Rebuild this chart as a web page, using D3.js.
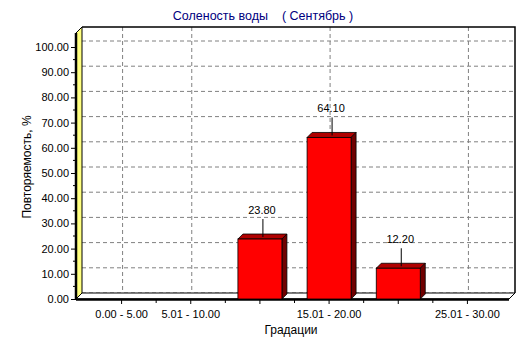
<!DOCTYPE html>
<html>
<head>
<meta charset="utf-8">
<script src="https://cdn.jsdelivr.net/npm/d3@7"></script>
<style>
  body { margin: 0; background: #fff; }
  text { font-family: Arial, "Liberation Sans", sans-serif; }
</style>
</head>
<body>
<div id="wrapper"></div>
<script>
// data
const categories = ["0.00 - 5.00", "5.01 - 10.00", "10.01 - 15.00", "15.01 - 20.00", "20.01 - 25.00", "25.01 - 30.00"]
const values = [0, 0, 23.8, 64.1, 12.2, 0]
const tickLabels = ["0.00 - 5.00", "5.01 - 10.00", "", "15.01 - 20.00", "", "25.01 - 30.00"]
const yTicks = [0, 10, 20, 30, 40, 50, 60, 70, 80, 90, 100]

const dims = { width: 532, height: 343 }
const front = { left: 76, right: 509, bottom: 299, top: 33 }
const depth = 6
const barDepth = 5
const barWidth = 44

const svg = d3.select("#wrapper").append("svg")
    .attr("width", dims.width)
    .attr("height", dims.height)

const xScale = d3.scaleBand()
    .domain(categories)
    .range([87, 502])
    .padding(0)
const xCenter = c => xScale(c) + xScale.bandwidth() / 2

const yScale = d3.scaleLinear()
    .domain([0, 100])
    .range([front.bottom, 47])

// back wall
svg.append("rect")
    .attr("x", front.left + depth).attr("y", 27)
    .attr("width", 515 - front.left - depth)
    .attr("height", front.bottom - depth - 27)
    .attr("fill", "#fff")

// grid on back wall
svg.append("g").selectAll("line")
    .data(yTicks)
    .join("line")
    .attr("x1", front.left + depth).attr("x2", 515)
    .attr("y1", d => yScale(d) - depth).attr("y2", d => yScale(d) - depth)
    .attr("stroke", "#808080")
    .attr("stroke-dasharray", "4,3")

svg.append("g").selectAll("line")
    .data(categories.filter((c, i) => tickLabels[i] !== ""))
    .join("line")
    .attr("x1", d => xCenter(d) + 1).attr("x2", d => xCenter(d) + 1)
    .attr("y1", 27).attr("y2", front.bottom - depth)
    .attr("stroke", "#808080")
    .attr("stroke-dasharray", "4,3")

// back wall border (top + right)
svg.append("path")
    .attr("d", `M${front.left + depth},27 H515 V${front.bottom - depth}`)
    .attr("fill", "none")
    .attr("stroke", "#000")
    .attr("stroke-width", 1.5)

// left wall
svg.append("path")
    .attr("d", `M${front.left},${front.top} L${front.left + depth},27 V${front.bottom - depth} L${front.left},${front.bottom} Z`)
    .attr("fill", "#ffff80")
    .attr("stroke", "#000")
    .attr("stroke-width", 1)
svg.append("line")
    .attr("x1", front.left).attr("x2", front.left)
    .attr("y1", front.top).attr("y2", front.bottom + 1)
    .attr("stroke", "#000").attr("stroke-width", 2.5)

// floor
svg.append("path")
    .attr("d", `M${front.left},${front.bottom} L${front.left + depth},${front.bottom - depth} H515 L${front.right},${front.bottom} Z`)
    .attr("fill", "#fff")
    .attr("stroke", "#000")
    .attr("stroke-width", 1)
svg.append("line")
    .attr("x1", front.left).attr("x2", front.right)
    .attr("y1", front.bottom + 0.5).attr("y2", front.bottom + 0.5)
    .attr("stroke", "#000").attr("stroke-width", 2.5)

// y axis ticks
const yAxis = d3.axisLeft(yScale)
    .tickValues(yTicks)
    .tickFormat(d3.format(".2f"))
    .tickSize(5)
    .tickPadding(2)
const yAxisG = svg.append("g")
    .attr("transform", `translate(${front.left},0)`)
    .call(yAxis)
yAxisG.select(".domain").remove()
yAxisG.selectAll("text").style("font-size", "11px").attr("fill", "#000")

svg.append("g").selectAll("line")
    .data(d3.range(5, 100, 10))
    .join("line")
    .attr("x1", front.left - 3).attr("x2", front.left)
    .attr("y1", d => yScale(d)).attr("y2", d => yScale(d))
    .attr("stroke", "#000")

// x axis ticks
const xAxis = d3.axisBottom(xScale)
    .tickFormat((d, i) => tickLabels[i])
    .tickSize(5)
    .tickPadding(6)
const xAxisG = svg.append("g")
    .attr("transform", `translate(0,${front.bottom})`)
    .call(xAxis)
xAxisG.select(".domain").remove()
xAxisG.selectAll("text").style("font-size", "11px").attr("fill", "#000")

svg.append("g").selectAll("line")
    .data(categories.slice(1))
    .join("line")
    .attr("x1", d => xScale(d)).attr("x2", d => xScale(d))
    .attr("y1", front.bottom).attr("y2", front.bottom + 4)
    .attr("stroke", "#000")

// bars
const barData = categories.map((c, i) => ({ c, v: values[i] })).filter(d => d.v > 0)

const bars = svg.append("g").selectAll("g")
    .data(barData)
    .join("g")

bars.append("path") // top
    .attr("d", d => {
        const x0 = xCenter(d.c) - barWidth / 2, y0 = yScale(d.v)
        return `M${x0},${y0} L${x0 + barDepth},${y0 - barDepth} H${x0 + barWidth + barDepth} L${x0 + barWidth},${y0} Z`
    })
    .attr("fill", "#b00000")
    .attr("stroke", "#000")
    .attr("stroke-width", 0.8)

bars.append("path") // side
    .attr("d", d => {
        const x1 = xCenter(d.c) + barWidth / 2, y0 = yScale(d.v)
        return `M${x1},${y0} L${x1 + barDepth},${y0 - barDepth} V${front.bottom - barDepth} L${x1},${front.bottom} Z`
    })
    .attr("fill", "#700000")
    .attr("stroke", "#000")
    .attr("stroke-width", 0.8)

bars.append("rect") // front
    .attr("x", d => xCenter(d.c) - barWidth / 2)
    .attr("y", d => yScale(d.v))
    .attr("width", barWidth)
    .attr("height", d => front.bottom - yScale(d.v))
    .attr("fill", "#ff0000")
    .attr("stroke", "#000")
    .attr("stroke-width", 0.8)

// value labels
bars.append("line")
    .attr("x1", d => xCenter(d.c) + 3).attr("x2", d => xCenter(d.c) + 3)
    .attr("y1", d => yScale(d.v) - 2).attr("y2", d => yScale(d.v) - 20)
    .attr("stroke", "#000")

bars.append("text")
    .attr("x", d => xCenter(d.c) + 2)
    .attr("y", d => yScale(d.v) - 25)
    .attr("text-anchor", "middle")
    .style("font-size", "11px")
    .text(d => d.v.toFixed(2))

// titles
svg.append("text")
    .attr("x", 263).attr("y", 20)
    .attr("text-anchor", "middle")
    .attr("fill", "#000080")
    .style("font-size", "12.5px")
    .style("white-space", "pre")
    .text("Соленость воды    ( Сентябрь )")

svg.append("text")
    .attr("x", 291).attr("y", 334)
    .attr("text-anchor", "middle")
    .style("font-size", "12px")
    .text("Градации")

svg.append("text")
    .attr("transform", "translate(31,167) rotate(-90)")
    .attr("text-anchor", "middle")
    .style("font-size", "12px")
    .text("Повторяемость, %")
</script>
</body>
</html>
